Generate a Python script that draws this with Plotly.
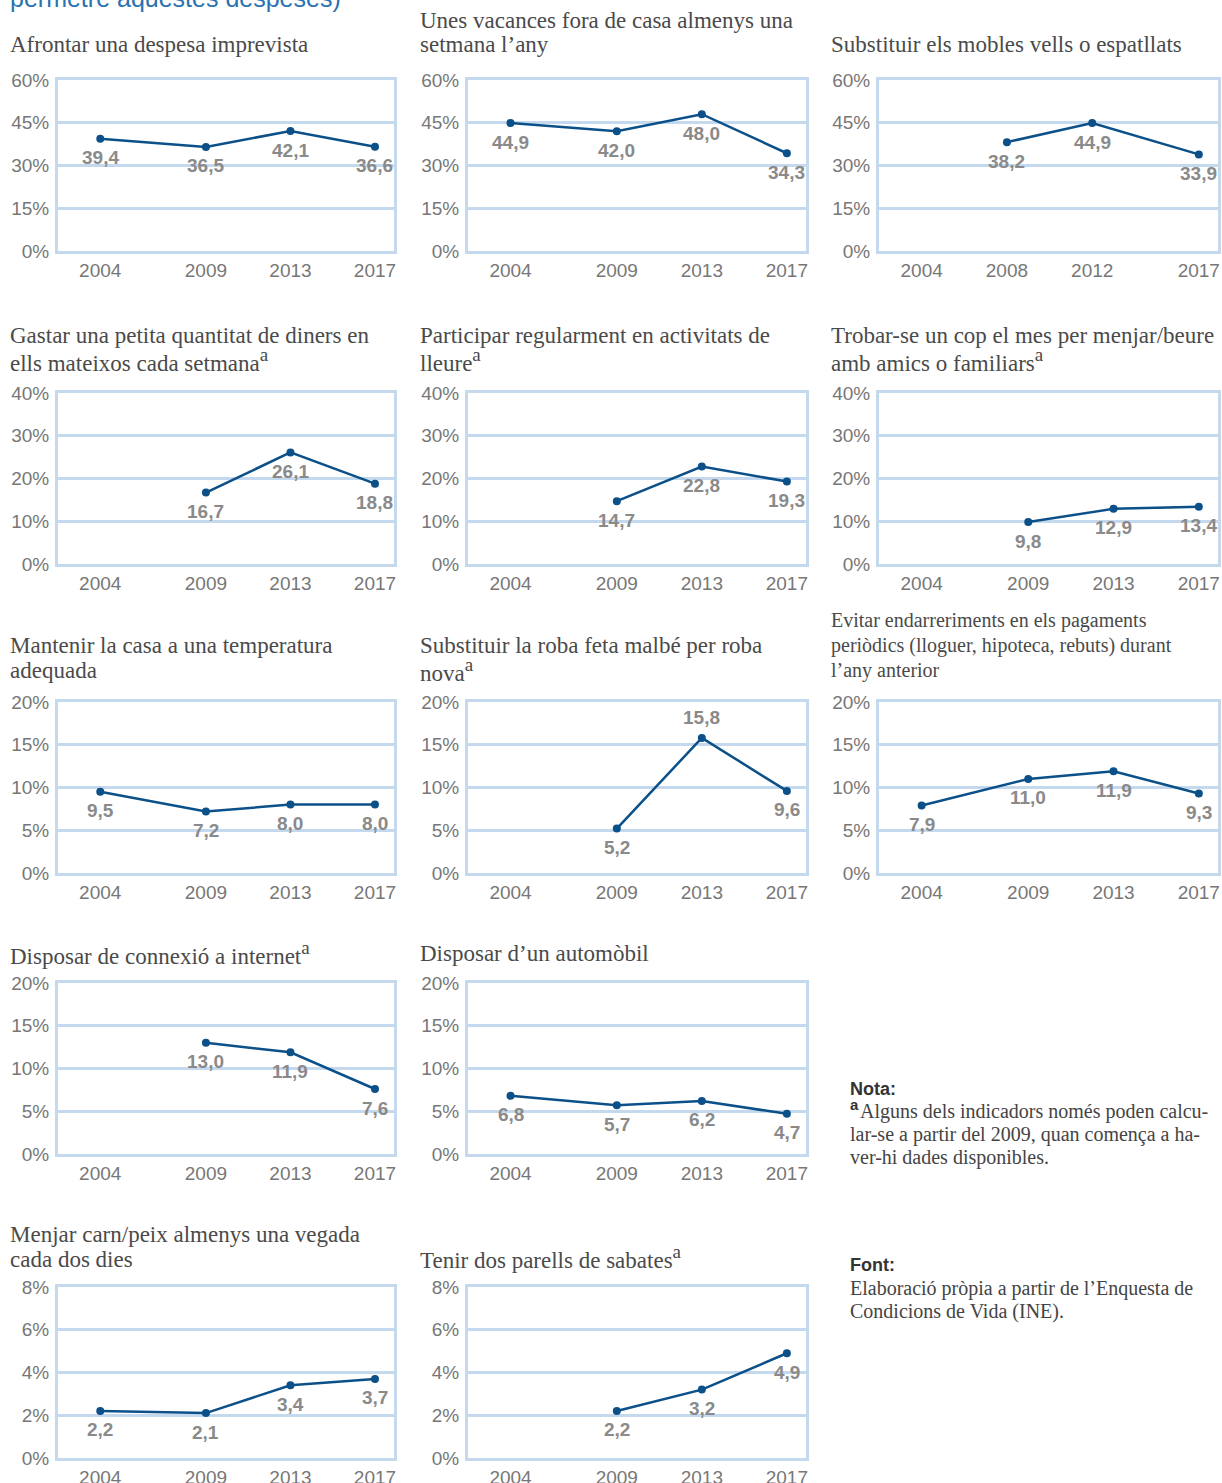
import plotly.graph_objects as go

W, H = 1222, 1483

# ---------------- data ----------------
years_std = [2004, 2009, 2013, 2017]
years_from2009 = [2009, 2013, 2017]
years_mobles = [2008, 2012, 2017]
ticks_std = [2004, 2009, 2013, 2017]
ticks_mobles = [2004, 2008, 2012, 2017]

SUP = '<sup><span style="font-size:19px">a</span></sup>'
titles = [
    ["Afrontar una despesa imprevista"],
    ["Unes vacances fora de casa almenys una", "setmana l’any"],
    ["Substituir els mobles vells o espatllats"],
    ["Gastar una petita quantitat de diners en", "ells mateixos cada setmana" + SUP],
    ["Participar regularment en activitats de", "lleure" + SUP],
    ["Trobar-se un cop el mes per menjar/beure", "amb amics o familiars" + SUP],
    ["Mantenir la casa a una temperatura", "adequada"],
    ["Substituir la roba feta malbé per roba", "nova" + SUP],
    ["Evitar endarreriments en els pagaments", "periòdics (lloguer, hipoteca, rebuts) durant", "l’any anterior"],
    ["Disposar de connexió a internet" + SUP],
    ["Disposar d’un automòbil"],
    ["Menjar carn/peix almenys una vegada", "cada dos dies"],
    ["Tenir dos parells de sabates" + SUP],
]

despesa_imprevista = [39.4, 36.5, 42.1, 36.6]
vacances = [44.9, 42.0, 48.0, 34.3]
mobles = [38.2, 44.9, 33.9]
petita_quantitat = [16.7, 26.1, 18.8]
lleure = [14.7, 22.8, 19.3]
amics = [9.8, 12.9, 13.4]
temperatura = [9.5, 7.2, 8.0, 8.0]
roba = [5.2, 15.8, 9.6]
endarreriments = [7.9, 11.0, 11.9, 9.3]
internet = [13.0, 11.9, 7.6]
automobil = [6.8, 5.7, 6.2, 4.7]
carn_peix = [2.2, 2.1, 3.4, 3.7]
sabates = [2.2, 3.2, 4.9]

panels = [
    (years_std, despesa_imprevista, ticks_std, 60, 15),
    (years_std, vacances, ticks_std, 60, 15),
    (years_mobles, mobles, ticks_mobles, 60, 15),
    (years_from2009, petita_quantitat, ticks_std, 40, 10),
    (years_from2009, lleure, ticks_std, 40, 10),
    (years_from2009, amics, ticks_std, 40, 10),
    (years_std, temperatura, ticks_std, 20, 5),
    (years_from2009, roba, ticks_std, 20, 5),
    (years_std, endarreriments, ticks_std, 20, 5),
    (years_from2009, internet, ticks_std, 20, 5),
    (years_std, automobil, ticks_std, 20, 5),
    (years_std, carn_peix, ticks_std, 8, 2),
    (years_from2009, sabates, ticks_std, 8, 2),
]
# label above the point for these (panel, point index)
above = {(7, 1)}

# ---------------- layout geometry (pixels) ----------------
grid_pos = [(0, 0), (0, 1), (0, 2), (1, 0), (1, 1), (1, 2), (2, 0), (2, 1), (2, 2),
            (3, 0), (3, 1), (4, 0), (4, 1)]
col_x0 = [58, 468, 879]
col_x1 = [394, 806, 1218]
row_top = [80, 393, 702, 983, 1287]
row_bot = [251, 564, 873, 1154, 1458]
title_line_y = [[45], [20, 45], [45], [335, 360], [335, 360], [335, 360],
                [645, 670], [645, 670], [620, 645, 670], [953], [953],
                [1234, 1259], [1257]]
title_size = [23] * 13
title_size[8] = 20

LINE = "#0b5088"
GRID = "#c4d8ee"
TICK = "#777777"
LABEL = "#8a8a8a"
TITLE = "#4a4a4a"
SANS = "Liberation Sans, Arial, sans-serif"
SERIF = "Liberation Serif, Times New Roman, serif"


def px(x):
    return x / W


def py(y):
    return 1 - y / H


fig = go.Figure()
annotations = []
layout = dict(
    width=W, height=H,
    margin=dict(l=0, r=0, t=0, b=0, autoexpand=False),
    paper_bgcolor="white", plot_bgcolor="white",
    showlegend=False,
)

for i, (xs, ys, ticks, ymax, dt) in enumerate(panels):
    r, c = grid_pos[i]
    n = i + 1
    xa = "x" if n == 1 else f"x{n}"
    ya = "y" if n == 1 else f"y{n}"
    fig.add_trace(go.Scatter(
        x=xs, y=ys, xaxis=xa, yaxis=ya,
        mode="lines+markers",
        line=dict(color=LINE, width=2.5),
        marker=dict(color=LINE, size=8),
        cliponaxis=False,
        hoverinfo="skip",
    ))
    for k, (xv, yv) in enumerate(zip(xs, ys)):
        annotations.append(dict(
            text="<b>" + f"{yv:.1f}".replace(".", ",") + "</b>",
            xref=xa, yref=ya, x=xv, y=yv, showarrow=False,
            xanchor="center", yanchor="middle",
            yshift=20 if (i, k) in above else -19,
            font=dict(family=SANS, size=19, color=LABEL),
        ))
    yticks = list(range(0, ymax + 1, dt))
    layout[f"xaxis{'' if n == 1 else n}"] = dict(
        domain=[px(col_x0[c]), px(col_x1[c])],
        anchor=ya,
        range=[2002, 2017.9],
        tickvals=ticks,
        ticktext=[str(t) for t in ticks],
        showgrid=False, zeroline=False,
        showline=True, mirror=True, linecolor=GRID, linewidth=3,
        ticks="outside", ticklen=0, tickcolor="rgba(0,0,0,0)",
        tickfont=dict(family=SANS, size=19, color=TICK),
        automargin=False, fixedrange=True,
    )
    layout[f"yaxis{'' if n == 1 else n}"] = dict(
        domain=[py(row_bot[r]), py(row_top[r])],
        anchor=xa,
        range=[0, ymax],
        tickvals=yticks,
        ticktext=[f"{t}%" for t in yticks],
        showgrid=True, gridcolor=GRID, gridwidth=3,
        zeroline=False,
        showline=True, mirror=True, linecolor=GRID, linewidth=3,
        ticks="outside", ticklen=2, tickcolor="rgba(0,0,0,0)",
        tickfont=dict(family=SANS, size=19, color=TICK),
        automargin=False, fixedrange=True,
    )
    for line_text, ly in zip(titles[i], title_line_y[i]):
        annotations.append(dict(
            text=line_text, xref="paper", yref="paper",
            x=px(col_x0[c] - 50), y=py(ly),
            xanchor="left", yanchor="middle", align="left", showarrow=False,
            font=dict(family=SERIF, size=title_size[i], color=TITLE),
        ))

# partially visible heading at the very top
annotations.append(dict(
    text="permetre aquestes despeses)", xref="paper", yref="paper",
    x=px(8), y=py(14), xanchor="left", yanchor="bottom", showarrow=False,
    font=dict(family=SANS, size=25, color="#2a72b0"),
))

# notes
note_lines = ["Alguns dels indicadors només poden calcu-",
              "lar-se a partir del 2009, quan comença a ha-",
              "ver-hi dades disponibles."]
note_y = [1111, 1134, 1157]
font_lines = ["Elaboració pròpia a partir de l’Enquesta de",
              "Condicions de Vida (INE)."]
font_y = [1288, 1311]

annotations += [
    dict(text="<b>Nota:</b>", xref="paper", yref="paper", x=px(848), y=py(1089),
         xanchor="left", yanchor="middle", showarrow=False,
         font=dict(family=SANS, size=18, color="#333333")),
    dict(text="<b>a</b>", xref="paper", yref="paper", x=px(848), y=py(1104),
         xanchor="left", yanchor="middle", showarrow=False,
         font=dict(family=SANS, size=15, color="#333333")),
    dict(text="<b>Font:</b>", xref="paper", yref="paper", x=px(848), y=py(1265),
         xanchor="left", yanchor="middle", showarrow=False,
         font=dict(family=SANS, size=18, color="#333333")),
]
for k, (t, ly) in enumerate(zip(note_lines, note_y)):
    annotations.append(dict(
        text=t, xref="paper", yref="paper", x=px(858 if k == 0 else 848), y=py(ly),
        xanchor="left", yanchor="middle", showarrow=False,
        font=dict(family=SERIF, size=20, color="#444444")))
for t, ly in zip(font_lines, font_y):
    annotations.append(dict(
        text=t, xref="paper", yref="paper", x=px(848), y=py(ly),
        xanchor="left", yanchor="middle", showarrow=False,
        font=dict(family=SERIF, size=20, color="#444444")))

layout["annotations"] = annotations
fig.update_layout(**layout)
fig.write_html("out.html", config={"displayModeBar": False},
               post_script="document.body.style.margin='0';")
